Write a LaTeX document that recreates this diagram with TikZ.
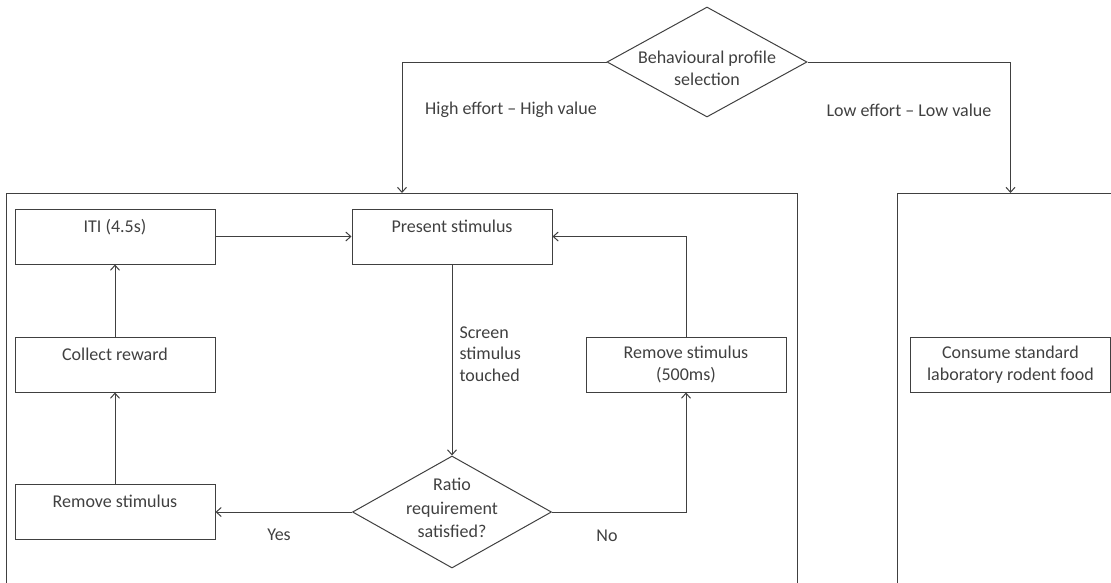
\documentclass[tikz,border=0pt]{standalone}
\usepackage{fontspec}
\setmainfont{Carlito}
\usetikzlibrary{positioning}
\usetikzlibrary{shapes.geometric}
\usetikzlibrary{arrows.meta}
\definecolor{linecol}{RGB}{64,64,64}
\definecolor{textcol}{RGB}{64,64,64}
\tikzset{
  stepbox/.style={draw=linecol, line width=1pt, minimum width=200pt, inner xsep=4pt, inner ysep=5pt, text height=18pt, text depth=27pt},
  twobox/.style={draw=linecol, line width=1pt, minimum width=200pt, minimum height=55pt, align=center},
  decision/.style={draw=linecol, line width=1pt, diamond, inner sep=0pt},
  panel/.style={draw=linecol, line width=1pt, anchor=north west},
  flow/.style={->, color=linecol, line width=1pt},
}
\begin{document}
\begin{tikzpicture}[x=1pt, y=-1pt, font=\fontsize{18}{22}\selectfont, text=textcol, >={Straight Barb[length=5pt,width=9pt]}]
\clip (0,0) rectangle (1111,582);
\node(sel)[decision, minimum width=200pt, minimum height=110pt] at (707,62) {};
\node(selt)[align=center] at (707,68) {Behavioural profile\\selection};
\node(hi)[panel, minimum width=791pt, minimum height=500pt] at (6,193) {};
\node(lo)[panel, minimum width=226pt, minimum height=500pt] at (897,193) {};
\node(hil) at (511,110) {High effort – High value};
\node(lol) at (909,110) {Low effort – Low value};

\node(iti)[stepbox] at (115,236.5) {ITI (4.5s)};
\node(pres)[stepbox] at (452,236.5) {Present stimulus};
\node(coll)[stepbox] at (115,364.5) {Collect reward};
\node(rem)[stepbox] at (115,512) {Remove stimulus};
\node(rem5)[twobox] at (686,364.5) {Remove stimulus\\(500ms)};
\node(food)[twobox] at (1010.5,364.5) {Consume standard\\laboratory rodent food};
\node(ratio)[decision, minimum width=199pt, minimum height=112pt] at (452,512) {};
\node(ratiot)[align=center, font=\fontsize{18}{23.5}\selectfont] at (452,508) {Ratio\\requirement\\satisfied?};
\node(touch)[align=left, anchor=west, font=\fontsize{18}{21.5}\selectfont] at (456,354) {Screen\\stimulus\\touched};
\node(yes) at (279,535) {Yes};
\node(no) at (607,536) {No};

\draw[flow] (sel.west) -| (hi.north);
\draw[flow] (sel.east) -| (lo.north);
\draw[flow] (iti.east) -- (pres.west);
\draw[flow] (pres.south) -- (ratio.north);
\draw[flow] (ratio.west) -- (rem.east);
\draw[flow] (ratio.east) -| (rem5.south);
\draw[flow] (rem5.north) |- (pres.east);
\draw[flow] (rem.north) -- (coll.south);
\draw[flow] (coll.north) -- (iti.south);
\end{tikzpicture}
\end{document}
